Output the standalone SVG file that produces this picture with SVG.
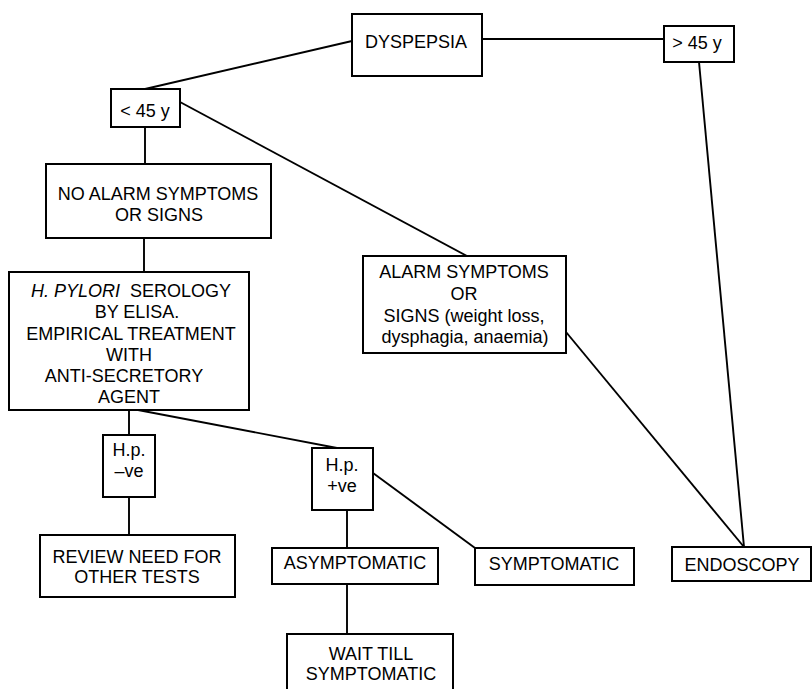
<svg xmlns="http://www.w3.org/2000/svg" width="812" height="689" viewBox="0 0 812 689">
<style>
  .box { fill: #ffffff; stroke: #000000; stroke-width: 2; }
  .edge { fill: none; stroke: #000000; stroke-width: 1.9; }
  text { font-family: "Liberation Sans", Arial, Helvetica, sans-serif; font-size: 18px; fill: #000000; text-anchor: middle; }
  .it { font-style: italic; }
</style>
<rect x="0" y="0" width="812" height="689" fill="#ffffff"/>
<g id="connectors">
  <line class="edge" x1="352" y1="41" x2="145" y2="89"/>
  <line class="edge" x1="482" y1="39" x2="664" y2="39"/>
  <line class="edge" x1="699" y1="62" x2="744" y2="547"/>
  <line class="edge" x1="145" y1="127" x2="145" y2="164"/>
  <line class="edge" x1="180" y1="102" x2="467" y2="256"/>
  <line class="edge" x1="144" y1="238" x2="144" y2="272"/>
  <line class="edge" x1="566" y1="332" x2="744" y2="547"/>
  <line class="edge" x1="129" y1="410" x2="129" y2="435"/>
  <line class="edge" x1="138" y1="410" x2="337" y2="448"/>
  <line class="edge" x1="129" y1="497" x2="129" y2="535"/>
  <line class="edge" x1="373" y1="473" x2="475" y2="548"/>
  <line class="edge" x1="347" y1="510" x2="347" y2="548"/>
  <line class="edge" x1="347" y1="584" x2="347" y2="634"/>
</g>
<g id="dyspepsia">
  <rect class="box" x="352" y="14" width="130" height="62"/>
  <text x="416" y="48">DYSPEPSIA</text>
</g>
<g id="under45">
  <rect class="box" x="111" y="89" width="69" height="38"/>
  <text x="145" y="117">&lt; 45 y</text>
</g>
<g id="over45">
  <rect class="box" x="664" y="26" width="70" height="36"/>
  <text x="697" y="49">&gt; 45 y</text>
</g>
<g id="no-alarm">
  <rect class="box" x="46" y="164" width="225" height="74"/>
  <text x="158" y="200">NO ALARM SYMPTOMS</text>
  <text x="159" y="221">OR SIGNS</text>
</g>
<g id="alarm">
  <rect class="box" x="363" y="256" width="203" height="97"/>
  <text x="464" y="278">ALARM SYMPTOMS</text>
  <text x="464" y="300">OR</text>
  <text x="464" y="322">SIGNS (weight loss,</text>
  <text x="465" y="343">dysphagia, anaemia)</text>
</g>
<g id="serology">
  <rect class="box" x="9" y="272" width="240" height="138"/>
  <text x="131" y="297" xml:space="preserve"><tspan class="it">H. PYLORI</tspan>  SEROLOGY</text>
  <text x="137" y="318">BY ELISA.</text>
  <text x="131" y="340">EMPIRICAL TREATMENT</text>
  <text x="129" y="361">WITH</text>
  <text x="124" y="382">ANTI-SECRETORY</text>
  <text x="129" y="403">AGENT</text>
</g>
<g id="hp-negative">
  <rect class="box" x="103" y="435" width="52" height="62"/>
  <text x="129" y="456">H.p.</text>
  <text x="129" y="477">–ve</text>
</g>
<g id="hp-positive">
  <rect class="box" x="312" y="448" width="61" height="62"/>
  <text x="342" y="471">H.p.</text>
  <text x="342" y="492">+ve</text>
</g>
<g id="review">
  <rect class="box" x="40" y="535" width="195" height="62"/>
  <text x="137" y="563">REVIEW NEED FOR</text>
  <text x="137" y="583">OTHER TESTS</text>
</g>
<g id="asymptomatic">
  <rect class="box" x="272" y="548" width="166" height="36"/>
  <text x="355" y="569">ASYMPTOMATIC</text>
</g>
<g id="symptomatic">
  <rect class="box" x="475" y="548" width="159" height="37"/>
  <text x="554" y="570">SYMPTOMATIC</text>
</g>
<g id="endoscopy">
  <rect class="box" x="672" y="547" width="139" height="34"/>
  <text x="742" y="571">ENDOSCOPY</text>
</g>
<g id="wait">
  <rect class="box" x="287" y="634" width="166" height="70"/>
  <text x="371" y="660">WAIT TILL</text>
  <text x="371" y="680">SYMPTOMATIC</text>
</g>
</svg>
